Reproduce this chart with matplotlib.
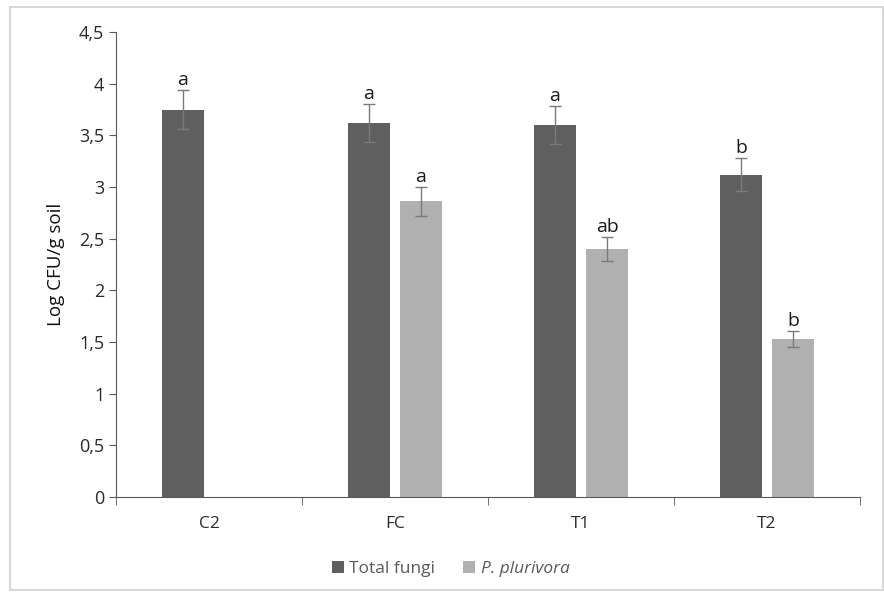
import numpy as np
import matplotlib.pyplot as plt
from matplotlib.patches import Rectangle

plt.rcParams['font.family'] = ['Open Sans', 'DejaVu Sans']

# data
groups = ['C2', 'FC', 'T1', 'T2']
total_fungi = [3.75, 3.62, 3.60, 3.12]
total_err = [0.19, 0.18, 0.18, 0.16]
total_letters = ['a', 'a', 'a', 'b']
plurivora = [np.nan, 2.86, 2.40, 1.53]
plurivora_err = [np.nan, 0.14, 0.12, 0.08]
plurivora_letters = ['', 'a', 'ab', 'b']

dark = '#5f5f5f'
light = '#b0b0b0'
axis_col = '#595959'

fig = plt.figure(figsize=(8.84, 5.97), dpi=100)
ax = fig.add_axes([116 / 884, 100 / 597, 744 / 884, 465 / 597])

x = np.arange(len(groups))
w = 0.225
off = 0.14

ax.bar(x - off, total_fungi, w, color=dark, label='Total fungi')
ax.bar(x + off, plurivora, w, color=light, label='P. plurivora')
ax.errorbar(x - off, total_fungi, yerr=total_err, fmt='none', ecolor='#7a7a7a',
            elinewidth=1, capsize=4, capthick=1)
ax.errorbar(x + off, plurivora, yerr=plurivora_err, fmt='none', ecolor='#7a7a7a',
            elinewidth=1, capsize=4, capthick=1)

for i in range(len(groups)):
    ax.text(x[i] - off, total_fungi[i] + total_err[i] + 0.01, total_letters[i],
            ha='center', va='bottom', fontsize=14, color='#1a1a1a')
    if plurivora_letters[i]:
        ax.text(x[i] + off, plurivora[i] + plurivora_err[i] + 0.01, plurivora_letters[i],
                ha='center', va='bottom', fontsize=14, color='#1a1a1a')

ax.set_xlim(-0.5, len(groups) - 0.5)
ax.set_ylim(0, 4.5)
ax.set_yticks(np.arange(0, 4.51, 0.5))
ax.set_yticklabels([f'{v:g}'.replace('.', ',') for v in np.arange(0, 4.51, 0.5)])
ax.set_xticks(x)
ax.set_xticklabels(groups)
ax.set_xticks(np.arange(-0.5, len(groups), 1), minor=True)
ax.tick_params(axis='x', which='major', length=0, pad=14, labelsize=12.5, labelcolor='#2a2a2a')
ax.tick_params(axis='x', which='minor', length=6, color=axis_col, direction='out')
ax.tick_params(axis='y', length=5, color=axis_col, labelsize=13, labelcolor='#2a2a2a')

for s in ['top', 'right']:
    ax.spines[s].set_visible(False)
ax.spines['left'].set_color(axis_col)
ax.spines['bottom'].set_color(axis_col)

ax.set_ylabel('Log CFU/g soil', fontsize=13.5, fontweight='medium', color='#111111', labelpad=10)

leg = ax.legend(loc='center', bbox_to_anchor=(0.45, -0.155), ncol=2, frameon=False,
                fontsize=12.5, handlelength=0.7, handleheight=0.7, handletextpad=0.3,
                columnspacing=1.6)
for t in leg.get_texts():
    t.set_color('#595959')
leg.get_texts()[1].set_style('italic')

fig.patches.append(Rectangle((10 / 884, 7 / 597), 873 / 884, 583 / 597, transform=fig.transFigure,
                             fill=False, edgecolor='#d9d9d9', linewidth=1.5))

fig.savefig('out.png', dpi=100)
